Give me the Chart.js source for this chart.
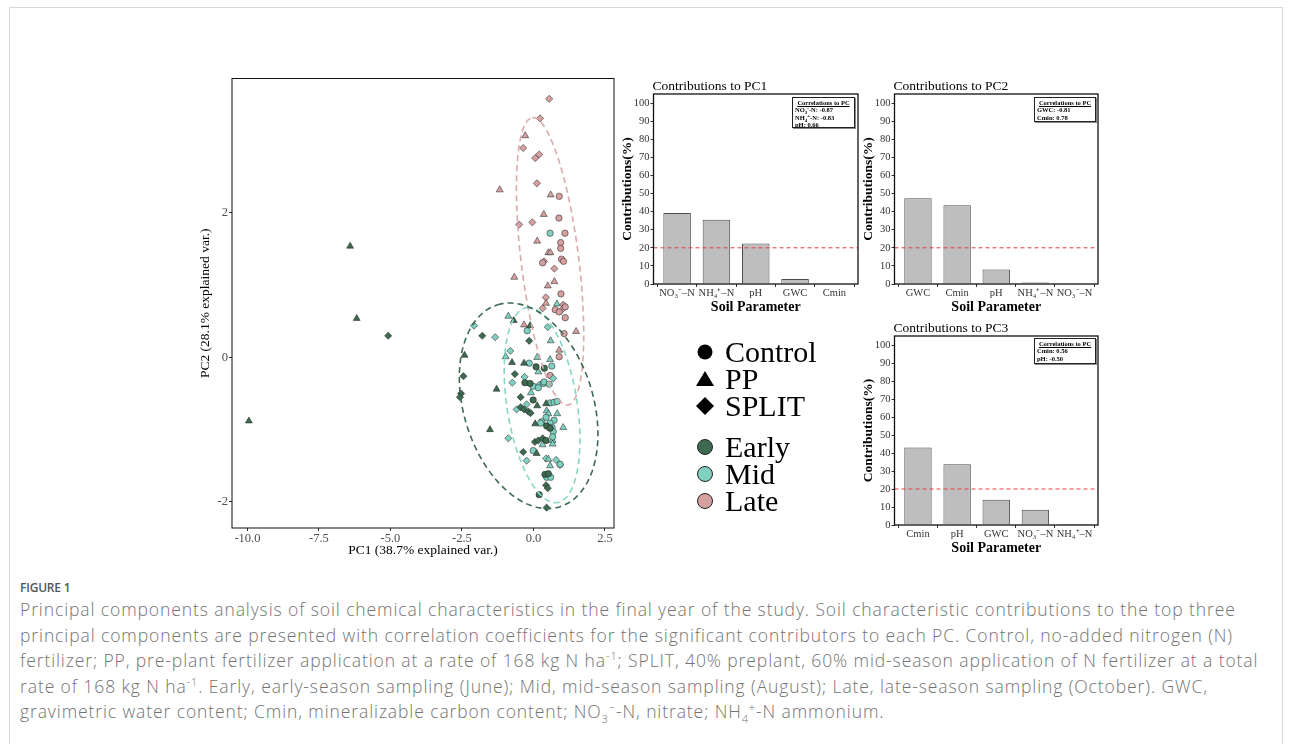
<!DOCTYPE html>
<html>
<head>
<meta charset="utf-8">
<script src="https://cdn.jsdelivr.net/npm/chart.js@4.4.1/dist/chart.umd.min.js"></script>
<style>
  body { margin: 0; width: 1290px; height: 744px; background: #fff; overflow: hidden; position: relative; }
  .frame { position: absolute; left: 9px; top: 7px; width: 1272px; height: 800px; border: 1px solid #d9d9d9; }
  canvas { position: absolute; }
  .corr { position: absolute; box-sizing: border-box; border: 1px solid #222; box-shadow: 1px 1px 0 #888; background: #fff;
          font: bold 6.5px/7.3px "Liberation Serif", serif; color: #000; padding: 1px 2px; white-space: nowrap; }
  .corr .h { text-decoration: underline; text-align: center; }
  .corr sub, .corr sup { font-size: 5px; line-height: 0; }
  .lg { position: absolute; left: 695px; height: 28px; display: flex; align-items: center;
        font: 30px "Liberation Serif", serif; color: #000; }
  .lg svg { width: 20px; height: 20px; margin-right: 10px; }
  .caphead { position: absolute; left: 20px; top: 579px; font: 600 12px "Open Sans", sans-serif; color: #555; letter-spacing: -0.2px; }
  .cap { position: absolute; left: 20px; top: 597px; font: 300 17.5px/25.5px "Open Sans", sans-serif; letter-spacing: 0.9px;
         color: #737373; white-space: nowrap; }
  .cap sup, .cap sub { font-size: 11px; line-height: 0; }
</style>
</head>
<body>
<div class="frame"></div>

<canvas id="pca" width="435" height="495" style="left:190px; top:70px"></canvas>
<canvas id="pc1" width="250" height="240" style="left:614px; top:76px"></canvas>
<canvas id="pc2" width="249" height="240" style="left:855px; top:76px"></canvas>
<canvas id="pc3" width="249" height="239" style="left:855px; top:318px"></canvas>

<div class="corr" style="left:792px; top:97px; width:63px; height:31px">
  <div class="h">Correlations to PC</div>
  <div>NO<sub>3</sub><sup>-</sup>-N: -0.87</div>
  <div>NH<sub>4</sub><sup>+</sup>-N: -0.83</div>
  <div>pH: 0.66</div>
</div>
<div class="corr" style="left:1034px; top:97px; width:62px; height:25px">
  <div class="h">Correlations to PC</div>
  <div>GWC: -0.81</div>
  <div>Cmin: 0.78</div>
</div>
<div class="corr" style="left:1034px; top:338px; width:62px; height:26px">
  <div class="h">Correlations to PC</div>
  <div>Cmin: 0.56</div>
  <div>pH: -0.50</div>
</div>

<div class="lg" style="top:338px"><svg viewBox="0 0 20 20"><circle cx="10" cy="10" r="7.5" fill="#000"/></svg>Control</div>
<div class="lg" style="top:365px"><svg viewBox="0 0 20 20"><polygon points="10,2 19,17 1,17" fill="#000"/></svg>PP</div>
<div class="lg" style="top:392px"><svg viewBox="0 0 20 20"><polygon points="10,1 19,10 10,19 1,10" fill="#000"/></svg>SPLIT</div>
<div class="lg" style="top:433px"><svg viewBox="0 0 20 20"><circle cx="10" cy="10" r="7.5" fill="#3e6a51" stroke="#222" stroke-width="1"/></svg>Early</div>
<div class="lg" style="top:460px"><svg viewBox="0 0 20 20"><circle cx="10" cy="10" r="7.5" fill="#7fd0c0" stroke="#222" stroke-width="1"/></svg>Mid</div>
<div class="lg" style="top:487px"><svg viewBox="0 0 20 20"><circle cx="10" cy="10" r="7.5" fill="#d6a0a0" stroke="#222" stroke-width="1"/></svg>Late</div>

<div class="caphead">FIGURE 1</div>
<div class="cap">
  <div>Principal components analysis of soil chemical characteristics in the final year of the study. Soil characteristic contributions to the top three</div>
  <div>principal components are presented with correlation coefficients for the significant contributors to each PC. Control, no-added nitrogen (N)</div>
  <div>fertilizer; PP, pre-plant fertilizer application at a rate of 168 kg N ha<sup>-1</sup>; SPLIT, 40% preplant, 60% mid-season application of N fertilizer at a total</div>
  <div>rate of 168 kg N ha<sup>-1</sup>. Early, early-season sampling (June); Mid, mid-season sampling (August); Late, late-season sampling (October). GWC,</div>
  <div>gravimetric water content; Cmin, mineralizable carbon content; NO<sub>3</sub><sup>−</sup>-N, nitrate; NH<sub>4</sub><sup>+</sup>-N ammonium.</div>
</div>

<script>
// PCA scores [PC1, PC2], one list per timing x treatment
let earlyControl = [[-0.30,-0.35],[-0.12,-0.36],[0.09,-0.13],[0.38,-0.15],[-0.01,-0.59],[0.46,-0.95],[0.58,-0.98],
                    [0.44,-1.15],[0.40,-1.62],[0.52,-1.61],[0.20,-1.90]];
let earlyPP      = [[-6.41,1.54],[-6.18,0.54],[-9.95,-0.88],[-0.69,0.51],[-0.12,0.44],[-2.41,0.03],[-0.75,-0.07],
                    [-0.33,-0.08],[-1.29,-0.44],[0.13,-0.67],[0.44,-0.64],[-1.52,-1.00],[0.06,-0.92],[0.11,-1.33]];
let earlySplit   = [[-5.08,0.30],[-1.79,0.30],[-0.15,0.23],[-2.45,-0.26],[-2.53,-0.50],[-2.57,-0.55],[-0.65,-0.23],
                    [-0.45,-0.55],[-0.45,-0.69],[-0.33,-0.72],[-0.18,-0.75],[-0.10,-0.77],[0.05,-1.17],[0.17,-1.15],
                    [0.32,-1.12],[-0.36,-1.31],[0.44,-1.77],[0.50,-1.81],[0.46,-2.08]];
let midControl   = [[0.58,1.72],[-0.22,0.37],[-0.15,-0.08],[0.64,-0.12],[-0.01,-0.40],[0.17,-0.42],[0.34,-0.36],
                    [0.37,-0.34],[0.55,-0.37],[0.58,-0.63],[0.72,-0.62],[0.83,-0.61],[0.44,-0.83],[0.72,-0.87],
                    [0.29,-0.89],[0.58,-0.91],[0.25,-0.91],[0.65,-0.97],[0.69,-1.03],[0.67,-1.10],[-0.01,-1.29],
                    [0.93,-1.48],[0.46,-1.66],[0.60,-1.66]];
let midPP        = [[0.82,0.74],[-0.88,0.57],[0.60,0.23],[-0.97,0.01],[0.13,0.00],[0.58,-0.03],[0.17,-0.20],
                    [-0.09,-0.49],[0.46,-0.74],[0.52,-0.78],[0.83,-0.78],[1.04,-0.97],[0.32,-1.21],[0.67,-1.15],
                    [0.67,-1.20],[0.52,-1.41],[0.58,-1.50]];
let midSplit     = [[-2.08,0.44],[-1.34,0.28],[0.50,0.42],[-0.81,0.09],[-0.74,-0.35],[-0.31,-0.27],[0.20,-0.38],
                    [0.69,-0.29],[-0.24,-0.65],[-0.59,-0.72],[-0.88,-1.12],[-0.24,-1.43],[0.44,-1.40],[0.79,-1.42],
                    [0.93,-1.49]];
let lateControl  = [[0.90,2.23],[0.89,1.93],[1.10,1.72],[0.95,1.59],[0.95,1.51],[0.98,1.36],[1.05,1.33],[0.32,1.31],
                    [0.96,0.88],[0.76,0.66],[0.90,0.63],[1.11,0.70],[1.11,0.55],[1.07,0.33],[0.90,0.01],[0.58,-0.25]];
let latePP       = [[-0.29,3.07],[-1.18,2.32],[0.60,2.25],[0.36,1.98],[0.13,1.61],[0.52,1.45],[0.59,1.45],
                    [-0.67,1.11],[0.73,1.05],[0.50,0.99],[0.44,0.75],[-0.33,0.45],[1.49,0.36],[0.90,0.10]];
let lateSplit    = [[0.55,3.58],[0.23,3.31],[-0.36,2.90],[0.06,2.76],[0.20,2.81],[0.12,2.41],[-0.50,1.84],
                    [-0.04,1.87],[0.37,1.33],[0.73,1.23],[0.43,0.83],[0.32,0.68],[1.04,0.73],[1.02,0.67]];

// dashed ellipses: centre and two semi-axis vectors, in PC units
let earlyEllipseCenter = [-0.17, -0.67];
let earlyEllipseAxes   = [[-1.08, 1.40], [2.17, 0.26]];
let midEllipseCenter   = [0.30, -0.66];
let midEllipseAxes     = [[-0.54, 1.35], [1.21, 0.08]];
let lateEllipseCenter  = [0.58, 1.33];
let lateEllipseAxes    = [[-0.62, 1.99], [1.00, 0.05]];

let pcaXTicks = [-10, -7.5, -5, -2.5, 0, 2.5];
let pcaYTicks = [-2, 0, 2];

// contributions (%)
let pc1Params  = ["NO\u2083\u207B\u2013N", "NH\u2084\u207A\u2013N", "pH", "GWC", "Cmin"];
let pc1Contrib = [39.3, 35.5, 22.4, 2.7, 0.1];
let pc2Params  = ["GWC", "Cmin", "pH", "NH\u2084\u207A\u2013N", "NO\u2083\u207B\u2013N"];
let pc2Contrib = [47.4, 43.5, 8.0, 0.8, 0.3];
let pc3Params  = ["Cmin", "pH", "GWC", "NO\u2083\u207B\u2013N", "NH\u2084\u207A\u2013N"];
let pc3Contrib = [43.1, 33.8, 14.0, 8.5, 0.6];
let contribTicks = [0, 10, 20, 30, 40, 50, 60, 70, 80, 90, 100];
let cutoff = 20;

let earlyCol = "#3e6a51";
let midCol   = "#7fd0c0";
let lateCol  = "#d6a0a0";

Chart.defaults.font.family = '"Liberation Serif", "Times New Roman", serif';
Chart.defaults.color = "#333";
Chart.defaults.animation = false;
Chart.defaults.plugins.legend.display = false;
Chart.defaults.plugins.tooltip.enabled = false;

// box around the panel, optional cut-off line and panel title
const panelDeco = {
    id: "panelDeco",
    afterDatasetsDraw(chart, args, opts) {
        const a = chart.chartArea, ctx = chart.ctx;
        ctx.save();
        if (opts.refLine != null) {
            const y = chart.scales.y.getPixelForValue(opts.refLine);
            ctx.strokeStyle = "#e8413c";
            ctx.lineWidth = 1;
            ctx.setLineDash([4, 3]);
            ctx.beginPath();
            ctx.moveTo(a.left, y);
            ctx.lineTo(a.right, y);
            ctx.stroke();
            ctx.setLineDash([]);
        }
        ctx.strokeStyle = "#111";
        ctx.lineWidth = opts.boxWidth || 1;
        ctx.strokeRect(a.left, a.top, a.right - a.left, a.bottom - a.top);
        if (opts.title) {
            ctx.fillStyle = "#000";
            ctx.font = '13.5px "Liberation Serif", serif';
            ctx.textAlign = "left";
            ctx.textBaseline = "alphabetic";
            ctx.fillText(opts.title, a.left - 1, a.top - 4);
        }
        ctx.restore();
    }
};
Chart.register(panelDeco);

function pts(arr) {
    return arr.map(p => ({x: p[0], y: p[1]}));
}

function group(arr, fill, style, r) {
    return {
        data: pts(arr), backgroundColor: fill, borderColor: "rgba(25,25,25,0.85)", borderWidth: 0.6,
        pointStyle: style, pointRadius: r, showLine: false, order: 2
    };
}

function ellipse(c, ax, col) {
    let d = [];
    for (let k = 0; k <= 90; k++) {
        let t = k / 90 * 2 * Math.PI;
        d.push({
            x: c[0] + ax[0][0] * Math.cos(t) + ax[1][0] * Math.sin(t),
            y: c[1] + ax[0][1] * Math.cos(t) + ax[1][1] * Math.sin(t)
        });
    }
    return {
        data: d, showLine: true, borderColor: col, borderWidth: 1.6, borderDash: [6, 4],
        pointRadius: 0, fill: false, tension: 0, order: 1
    };
}

new Chart(document.getElementById("pca"), {
    type: "scatter",
    data: {
        datasets: [
            group(earlyControl, earlyCol, "circle", 3.2),
            group(earlyPP, earlyCol, "triangle", 4),
            group(earlySplit, earlyCol, "rectRot", 3.6),
            group(midControl, midCol, "circle", 3.2),
            group(midPP, midCol, "triangle", 4),
            group(midSplit, midCol, "rectRot", 3.6),
            group(lateControl, lateCol, "circle", 3.2),
            group(latePP, lateCol, "triangle", 4),
            group(lateSplit, lateCol, "rectRot", 3.6),
            ellipse(earlyEllipseCenter, earlyEllipseAxes, earlyCol),
            ellipse(midEllipseCenter, midEllipseAxes, "#86d6c6"),
            ellipse(lateEllipseCenter, lateEllipseAxes, "#dca9a9")
        ]
    },
    options: {
        responsive: false,
        layout: {padding: {top: 8, right: 11, left: 0, bottom: 0}},
        scales: {
            x: {
                type: "linear", min: -10.54, max: 2.815,
                afterBuildTicks: s => { s.ticks = pcaXTicks.map(v => ({value: v})); },
                afterFit: s => { s.height = 37; },
                ticks: {callback: v => v.toFixed(1), font: {size: 12.5}, color: "#4d4d4d", padding: 0, maxRotation: 0},
                grid: {drawOnChartArea: false, tickLength: 3, color: "#333"},
                border: {display: false},
                title: {display: true, text: "PC1 (38.7% explained var.)", font: {size: 13.5}, color: "#000", padding: {top: 0, bottom: 6}}
            },
            y: {
                min: -2.362, max: 3.862,
                afterBuildTicks: s => { s.ticks = pcaYTicks.map(v => ({value: v})); },
                afterFit: s => { s.width = 42; },
                ticks: {callback: v => String(v), font: {size: 12.5}, color: "#4d4d4d", padding: 1},
                grid: {drawOnChartArea: false, tickLength: 3, color: "#333"},
                border: {display: false},
                title: {display: true, text: "PC2 (28.1% explained var.)", font: {size: 13.5}, color: "#000", padding: {top: 7, bottom: 0}}
            }
        },
        plugins: {panelDeco: {boxWidth: 1}}
    }
});

function barChart(id, title, params, values) {
    new Chart(document.getElementById(id), {
        type: "bar",
        data: {
            datasets: [{
                data: values.map((v, i) => ({x: i + 1, y: v})),
                backgroundColor: "#bebebe", borderColor: "#4d4d4d", borderWidth: 1,
                barPercentage: 0.7, categoryPercentage: 1
            }]
        },
        options: {
            responsive: false,
            layout: {padding: {top: 18, right: 6, left: 0, bottom: 0}},
            scales: {
                x: {
                    type: "linear", min: 0.4, max: 5.6, offset: false,
                    afterBuildTicks: s => { s.ticks = params.map((p, i) => ({value: i + 1})); },
                    afterFit: s => { s.height = 32; },
                    ticks: {callback: (v, i) => params[i], font: {size: 10.5}, color: "#333", padding: 0, autoSkip: false, maxRotation: 0},
                    grid: {drawOnChartArea: false, tickLength: 3, color: "#333"},
                    border: {display: false},
                    title: {display: true, text: "Soil Parameter", font: {size: 14, weight: "bold"}, color: "#000", padding: {top: 0, bottom: 0}}
                },
                y: {
                    min: 0, max: 105,
                    afterBuildTicks: s => { s.ticks = contribTicks.map(v => ({value: v})); },
                    afterFit: s => { s.width = 39.5; },
                    ticks: {font: {size: 10.5}, color: "#333", padding: 1},
                    grid: {drawOnChartArea: false, tickLength: 3, color: "#333"},
                    border: {display: false},
                    title: {display: true, text: "Contributions(%)", font: {size: 13.5, weight: "bold"}, color: "#000", padding: {top: 5, bottom: 0}}
                }
            },
            plugins: {panelDeco: {title: title, refLine: cutoff, boxWidth: 1.3}}
        }
    });
}

barChart("pc1", "Contributions to PC1", pc1Params, pc1Contrib);
barChart("pc2", "Contributions to PC2", pc2Params, pc2Contrib);
barChart("pc3", "Contributions to PC3", pc3Params, pc3Contrib);
</script>
</body>
</html>
